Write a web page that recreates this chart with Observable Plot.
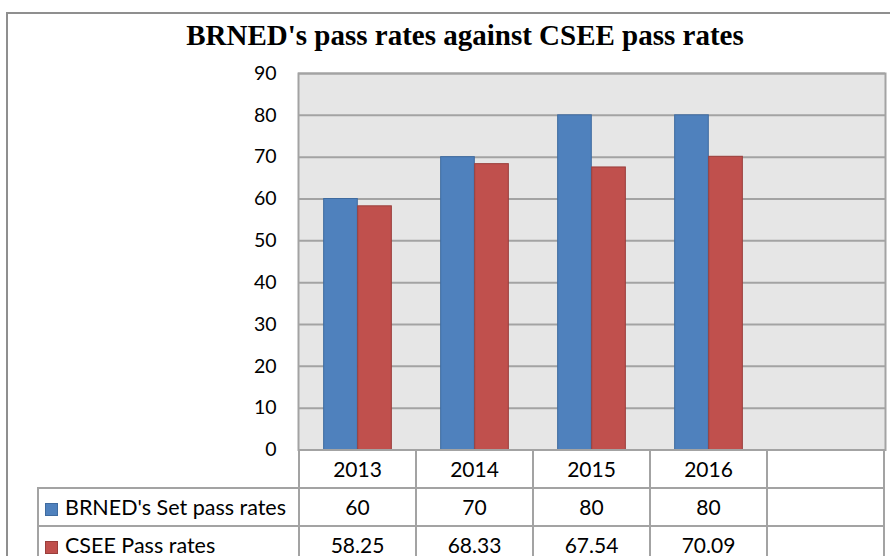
<!DOCTYPE html>
<html><head><meta charset="utf-8">
<script src="https://cdn.jsdelivr.net/npm/d3@7"></script>
<script src="https://cdn.jsdelivr.net/npm/@observablehq/plot@0.6"></script>
<style>
body{margin:0;background:#fff;overflow:hidden;}
#wrap{position:relative;width:890px;height:556px;overflow:hidden;background:#fff;font-family:Lato,"Open Sans",sans-serif;color:#000;}
#border{position:absolute;left:6px;top:12px;width:1000px;height:1000px;border:2px solid #8f8f8f;box-sizing:border-box;}
#title{position:absolute;left:40px;width:850px;top:15px;text-align:center;font-family:"Liberation Serif","Times New Roman",serif;font-weight:bold;font-size:29px;line-height:40px;}
#chart{position:absolute;left:0;top:60px;}
.ln{position:absolute;background:#a3a3a3;}
.cell{position:absolute;text-align:center;font-size:21px;line-height:38px;height:38px;}
.lab{position:absolute;font-size:21.5px;line-height:38px;height:38px;white-space:nowrap;}
.sw{display:inline-block;width:13px;height:13px;margin-right:7px;vertical-align:-1px;box-sizing:border-box;border:1px solid;}
</style></head><body>
<div id="wrap"><div id="border"></div><div id="title"></div></div>
<script>
const title = "BRNED's pass rates against CSEE pass rates";
const years = ["2013", "2014", "2015", "2016"];
const columns = [...years, ""];
const seriesNames = ["BRNED's Set pass rates", "CSEE Pass rates"];
const brned = [60, 70, 80, 80];
const csee = [58.25, 68.33, 67.54, 70.09];
const brnedLabels = ["60", "70", "80", "80"];
const cseeLabels = ["58.25", "68.33", "67.54", "70.09"];
const yTicks = [0, 10, 20, 30, 40, 50, 60, 70, 80, 90];
const fills = ["#4f81bd", "#c0504d"];
const strokes = ["#3f6b9f", "#9a3e3b"];

const rows = years.map((y, i) => ({year: y, brned: brned[i], csee: csee[i]}));

const W = 890, H = 410, mL = 298, mR = 5, mT = 13, mB = 20.5, svgTop = 60;
const bw = (W - mL - mR) / columns.length;
const barW = bw * 0.29;
const half = bw / 2;

document.getElementById("title").textContent = title;

const chart = Plot.plot({
  width: W, height: H,
  marginLeft: mL, marginRight: mR, marginTop: mT, marginBottom: mB,
  x: {domain: columns, padding: 0, axis: null},
  y: {domain: [0, 90], axis: null},
  style: {background: "transparent", fontFamily: "Lato, 'Open Sans', sans-serif", fontSize: "19px", color: "#000"},
  marks: [
    Plot.frame({fill: "#e6e6e6", stroke: null}),
    Plot.gridY(yTicks, {stroke: "#a3a3a3", strokeOpacity: 1, strokeWidth: 2}),
    Plot.barY(rows, {x: "year", y: "brned", fill: fills[0], stroke: strokes[0], strokeWidth: 1,
      insetLeft: half - barW, insetRight: half}),
    Plot.barY(rows, {x: "year", y: "csee", fill: fills[1], stroke: strokes[1], strokeWidth: 1,
      insetLeft: half, insetRight: half - barW}),
    Plot.axisY(yTicks, {tickSize: 0, tickPadding: 22, fontSize: 19.5, fill: "#000", label: null}),
    Plot.frame({stroke: "#a3a3a3", strokeWidth: 2})
  ]
});
chart.id = "chart";
const wrap = document.getElementById("wrap");
wrap.appendChild(chart);

// data table under the chart, aligned on the x scale
const x = chart.scale("x");
const yS = chart.scale("y");
const tableTop = svgTop + yS.apply(0);
const rowH = 38;
const tableLeft = 38;
const right = x.apply(columns[columns.length - 1]) + x.bandwidth;

function line(l, t, w, h) {
  const d = document.createElement("div");
  d.className = "ln";
  Object.assign(d.style, {left: l + "px", top: t + "px", width: w + "px", height: h + "px"});
  wrap.appendChild(d);
}
line(x.apply(columns[0]) - 1, tableTop - 1, right - x.apply(columns[0]) + 2, 2);
for (let r = 1; r <= 3; r++) line(tableLeft - 1, tableTop + r * rowH - 1, right - tableLeft + 2, 2);
line(tableLeft - 1, tableTop + rowH - 1, 2, 200);
columns.forEach(c => line(x.apply(c) - 1, tableTop - 1, 2, 200));
line(right - 1, tableTop - 1, 2, 200);

function cell(text, l, t, w) {
  const d = document.createElement("div");
  d.className = "cell";
  d.textContent = text;
  Object.assign(d.style, {left: l + "px", top: t + "px", width: w + "px"});
  wrap.appendChild(d);
}
columns.forEach(c => cell(c, x.apply(c), tableTop, x.bandwidth));
const valueRows = [brnedLabels, cseeLabels];
valueRows.forEach((vals, r) => {
  vals.forEach((v, i) => cell(v, x.apply(years[i]), tableTop + (r + 1) * rowH, x.bandwidth));
  const lab = document.createElement("div");
  lab.className = "lab";
  Object.assign(lab.style, {left: (tableLeft + 7) + "px", top: (tableTop + (r + 1) * rowH) + "px"});
  const sw = document.createElement("span");
  sw.className = "sw";
  sw.style.background = fills[r];
  sw.style.borderColor = strokes[r];
  lab.appendChild(sw);
  lab.appendChild(document.createTextNode(seriesNames[r]));
  wrap.appendChild(lab);
});
</script>
</body></html>
